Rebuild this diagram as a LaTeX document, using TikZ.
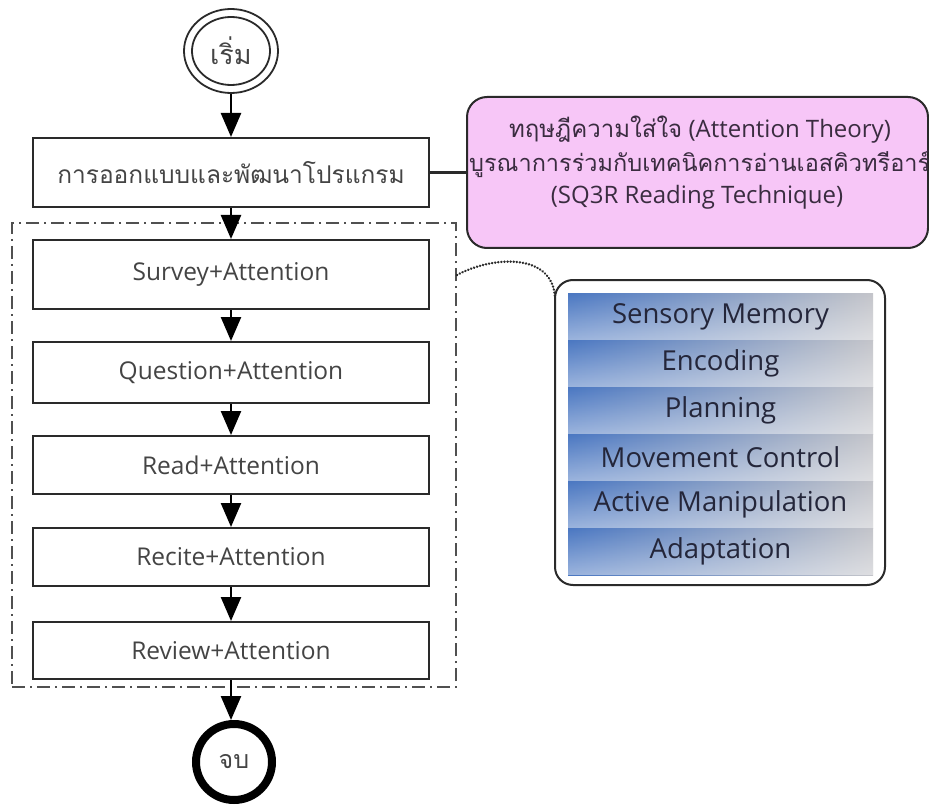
\documentclass[tikz,border=0pt]{standalone}
\usepackage{fontspec}
\setmainfont{Open Sans}
\newfontfamily\thai[Script=Thai]{Loma}
\usetikzlibrary{arrows.meta,fadings,shapes.geometric}

\definecolor{txtgray}{HTML}{444444}
\definecolor{linegray}{HTML}{2A2A2A}
\definecolor{framegray}{HTML}{505050}
\definecolor{pinkfill}{HTML}{F7C6F7}
\definecolor{pinktext}{HTML}{3A2C40}
\definecolor{bandblue}{HTML}{4A77C2}
\definecolor{bandgray}{HTML}{C4C5CA}
\definecolor{bandtext}{HTML}{24263A}

\tikzset{
  flowbox/.style={draw=linegray, line width=2pt, minimum width=396pt,
    inner sep=0pt, text=txtgray, font=\fontsize{24.5}{28}\selectfont},
  flowarrow/.style={line width=2.5pt, draw=black,
    -{Triangle[width=20pt,length=24pt]}},
  groupframe/.style={draw=framegray, line width=2.5pt,
    dash pattern=on 13pt off 5pt on 2pt off 5pt},
  band/.style={minimum width=305pt, minimum height=47pt, inner sep=0pt,
    left color=bandblue, right color=bandgray, text=bandtext,
    font=\fontsize{27.5}{32}\selectfont,
    path picture={\fill[white, path fading=north, fill opacity=0.45]
      (path picture bounding box.north west) rectangle
      (path picture bounding box.south east);}},
  theorytext/.style={text=pinktext, inner sep=0pt,
    font=\fontsize{24}{30}\selectfont},
}

\begin{document}
\begin{tikzpicture}[x=1pt, y=-1pt]
\useasboundingbox (0,0) rectangle (929,805);

% start terminal: double ring
\node[draw=linegray, ellipse, line width=1.8pt, minimum width=94pt,
      minimum height=84pt, inner sep=0pt] (start) at (231,51) {};
\draw[linegray, line width=1.8pt] (start.center) ellipse [x radius=39, y radius=34];
\node[text=txtgray, font=\fontsize{27}{30}\selectfont] (starttext) at (start.center) {\thai เริ่ม};

% main process column
\node[flowbox, minimum height=69pt] (design) at (231,172.5) {\thai การออกแบบและพัฒนาโปรแกรม};

\node[groupframe, minimum width=444pt, minimum height=464pt, inner sep=0pt] (group) at (234,455) {};

\node[flowbox, minimum height=69pt] (survey)   at (231,274.5) {Survey+Attention};
\node[flowbox, minimum height=61pt] (question) at (231,372.5) {Question+Attention};
\node[flowbox, minimum height=58pt] (read)     at (231,465)   {Read+Attention};
\node[flowbox, minimum height=58pt] (recite)   at (231,557)   {Recite+Attention};
\node[flowbox, minimum height=57pt] (review)   at (231,650.5) {Review+Attention};

% end terminal
\node[circle, draw=black, line width=8pt, minimum size=76pt, inner sep=0pt,
      text=txtgray, font=\fontsize{25}{28}\selectfont] (stop) at (234,762) {\thai จบ};

% flow arrows
\draw[flowarrow] (start) -- (design);
\draw[flowarrow] (design) -- (survey);
\draw[flowarrow] (survey) -- (question);
\draw[flowarrow] (question) -- (read);
\draw[flowarrow] (read) -- (recite);
\draw[flowarrow] (recite) -- (review);
\draw[flowarrow] (review.south) -- (review.south |- stop.north);

% theory box
\node[draw=linegray, line width=2pt, rounded corners=20pt, fill=pinkfill,
      minimum width=461pt, minimum height=151pt] (theory) at (697.5,172.5) {};
\node[theorytext] (th1) at (700,130) {{\thai ทฤษฎีความใส่ใจ} (Attention Theory)};
\node[theorytext, anchor=west, font=\fontsize{23.5}{30}\selectfont] (th2) at (469,164) {\thai บูรณาการร่วมกับเทคนิคการอ่านเอสคิวทรีอาร์};
\node[theorytext] (th3) at (697,197) {(SQ3R Reading Technique)};
\draw[linegray, line width=2.5pt] (design.east) -- (theory.west);

% attention stages panel
\node[draw=linegray, line width=2pt, rounded corners=18pt,
      minimum width=330pt, minimum height=305pt] (panel) at (720,432.5) {};
\node[band] (b1) at (720.5,316.5) {Sensory Memory};
\node[band] (b2) at (720.5,363.5) {Encoding};
\node[band] (b3) at (720.5,410.5) {Planning};
\node[band] (b4) at (720.5,457.5) {Movement Control};
\node[band] (b5) at (720.5,504.5) {Active Manipulation};
\node[band] (b6) at (720.5,551.5) {Adaptation};

% callout from the SQ3R group to the panel
\coordinate (calloutA) at (457,275);
\coordinate (calloutB) at (555,298);
\draw[linegray, line width=2.6pt, line cap=round, dash pattern=on 0.1pt off 3pt]
  (calloutA) .. controls (492,256) and (553,252) .. (calloutB);
\end{tikzpicture}
\end{document}
